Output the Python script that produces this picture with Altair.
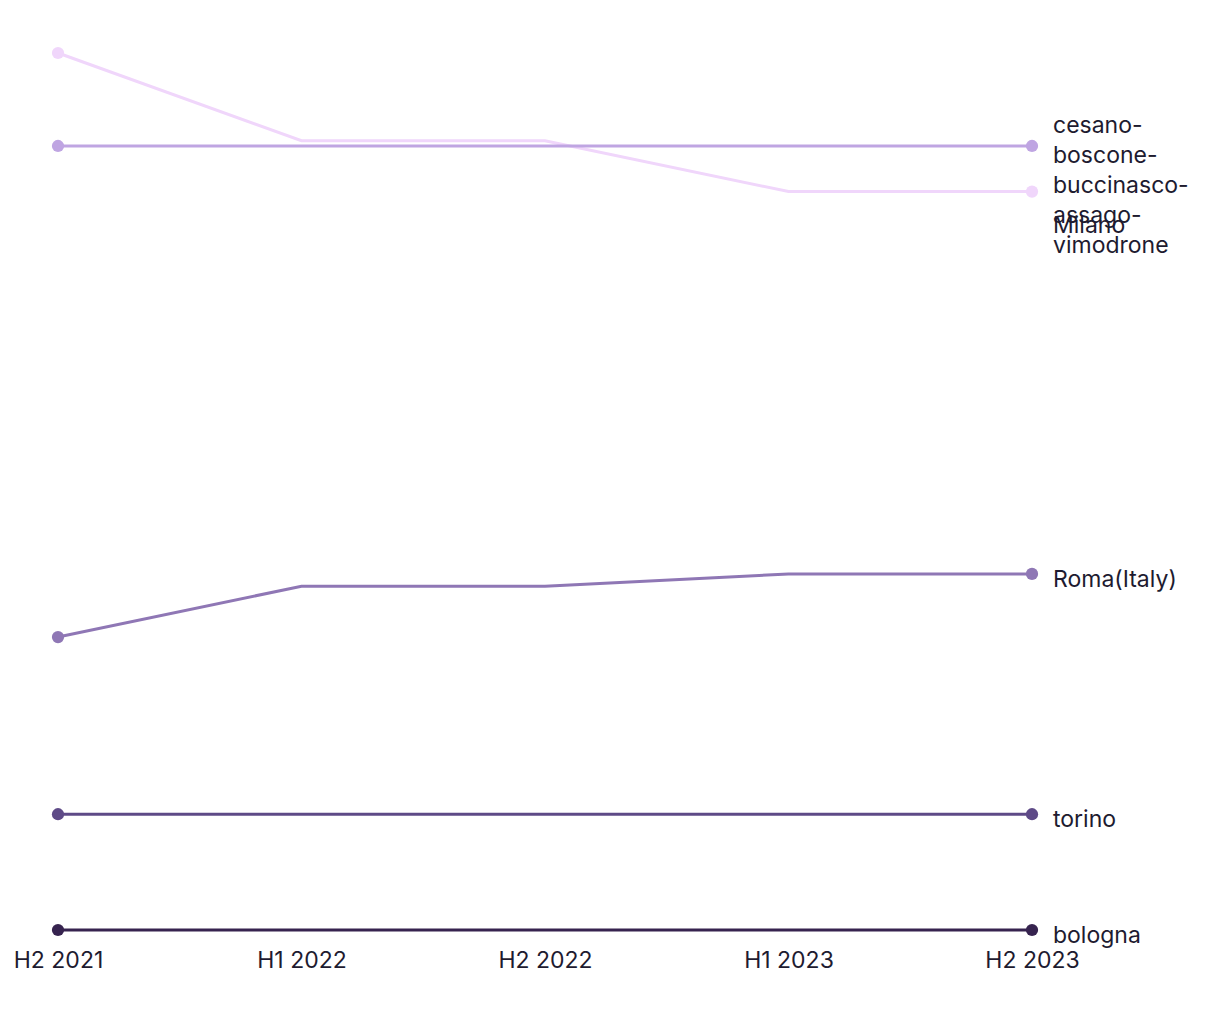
import altair as alt
import pandas as pd

periods = ["H2 2021", "H1 2022", "H2 2022", "H1 2023", "H2 2023"]
series = ["Milano", "cesano-boscone-buccinasco-assago-vimodrone", "Roma(Italy)", "torino", "bologna"]
label_text = ["Milano", "cesano-\nboscone-\nbuccinasco-\nassago-\nvimodrone", "Roma(Italy)", "torino", "bologna"]
colors = ["#f0d6fb", "#bfa5e2", "#8f77b5", "#5e4a87", "#36234f"]

milano = [100.0, 90.0, 90.0, 84.2, 84.2]
cesano = [89.4, 89.4, 89.4, 89.4, 89.4]
roma = [33.4, 39.2, 39.2, 40.6, 40.6]
torino = [13.2, 13.2, 13.2, 13.2, 13.2]
bologna = [0.0, 0.0, 0.0, 0.0, 0.0]
values = [milano, cesano, roma, torino, bologna]

# label anchors (data units) after de-overlapping
label_y = [80.3, 91.7, 39.9, 12.5, -0.7]

rows = []
for s, vals in zip(series, values):
    for i, v in enumerate(vals):
        rows.append({"series": s, "period": periods[i], "idx": i, "value": v,
                     "end": 1 if i in (0, len(vals) - 1) else 0})
df = pd.DataFrame(rows)

lab_rows = []
for s, t, vals, ly in zip(series, label_text, values, label_y):
    lab_rows.append({"series": s, "text": t, "idx": len(vals) - 1, "value": vals[-1], "ly": ly})
lab = pd.DataFrame(lab_rows)

xs = alt.Scale(domain=[0, len(periods) - 1], nice=False, zero=False)
ys = alt.Scale(domain=[0, 100], nice=False, zero=False)
cs = alt.Scale(domain=series, range=colors)

label_expr = "[" + ",".join("'" + p + "'" for p in periods) + "][datum.value]"

x = alt.X("idx:Q", scale=xs,
          axis=alt.Axis(title=None, values=list(range(len(periods))), labelExpr=label_expr,
                        domain=False, ticks=False, grid=False, labelFontSize=23,
                        labelColor="#1e1b30", labelPadding=19, labelFont="Inter",
                        labelFlush=False))
y = alt.Y("value:Q", scale=ys, axis=None)

base = alt.Chart(df)

lines = base.mark_line(strokeWidth=3).encode(
    x=x, y=y, color=alt.Color("series:N", scale=cs, legend=None),
    order="idx:Q")

points = base.transform_filter("datum.end == 1").mark_circle(size=150, opacity=1).encode(
    x=alt.X("idx:Q", scale=xs), y=y, color=alt.Color("series:N", scale=cs, legend=None))

labels = alt.Chart(lab).mark_text(
    align="left", baseline="middle", dx=21, fontSize=23, font="Inter",
    color="#1e1b30", lineHeight=30, lineBreak="\n"
).encode(x=alt.X("idx:Q", scale=xs), y=alt.Y("ly:Q", scale=ys), text="text:N")

chart = alt.layer(lines, points, labels).properties(
    width=974, height=877,
    autosize=alt.AutoSizeParams(type="none"),
    padding={"left": 50, "top": 45, "right": 180, "bottom": 80},
).configure_view(stroke=None)

chart.save("out.html", embed_options={"renderer": "svg", "actions": False})
